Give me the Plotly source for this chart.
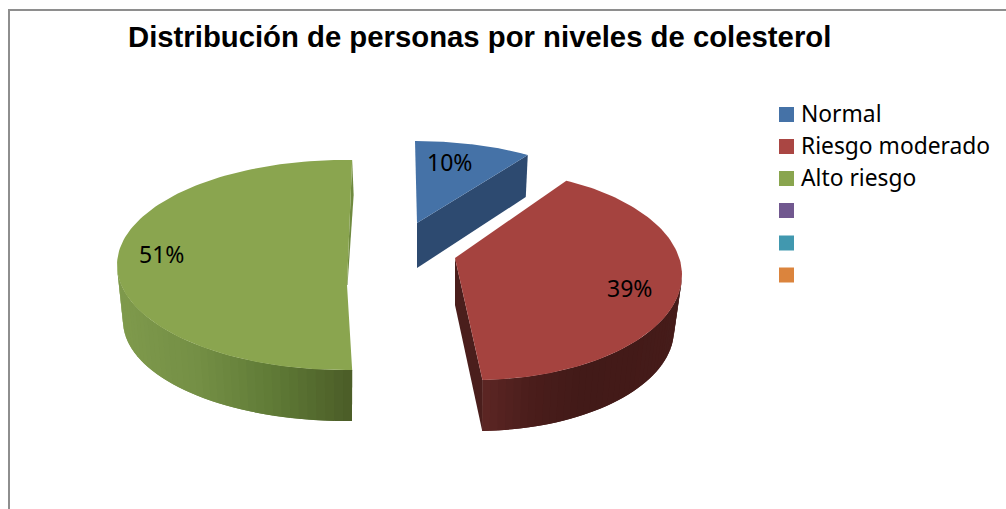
import math
import plotly.graph_objects as go

# ---- data ----
title = "Distribución de personas por niveles de colesterol"
categories = ["Normal", "Riesgo moderado", "Alto riesgo"]
values = [10, 39, 51]
labels = ["10%", "39%", "51%"]
legend_names = ["Normal", "Riesgo moderado", "Alto riesgo", "", "", ""]
legend_colors = ["#4572a7", "#aa4643", "#89a54e", "#71588f", "#4198af", "#db843d"]

# ---- oblique projection of each exploded slice (drawing style, not data) ----
W, H = 1006, 509
ROT = 1.8
PROJ = [
    dict(top=(415, 208, 184, 67), bot=(413, 250, 184, 67), apex=(417, 223), apex_bot=(417, 268),
         d0=-1.8, d1=0.0, face="#4572a7", cut="#2d4a70", cut_kind="wall", wall=None, lab=(450, 163)),
    dict(top=(476, 275, 206, 105), bot=(476, 330, 198, 101), apex=(455, 258), apex_bot=(455, 305),
         d0=-11.8, d1=0.0, face="#a5433f", cut="#4a1e1c", cut_kind="wall",
         wall=(90.0, 178.2, ["#461c1a", "#431a18", "#421a18", "#4a1d1b", "#5c2624"]), lab=(630, 289)),
    dict(top=(345, 265, 228, 105), bot=(345, 321, 222, 100), apex=(347, 285), apex_bot=(347.5, 285),
         d0=0.0, d1=0.0, face="#8aa54f", cut="#6f8a3f", cut_kind="sliver",
         wall=(270.0, 178.2, ["#7f9a4c", "#748f45", "#5f7a36", "#4b5c27"]), lab=(162, 255)),
]


def hx(c):
    return tuple(int(c[i:i + 2], 16) for i in (1, 3, 5))


def ramp(stops, t):
    t = max(0.0, min(1.0, t))
    p = t * (len(stops) - 1)
    i = min(int(p), len(stops) - 2)
    f = p - i
    a, b = hx(stops[i]), hx(stops[i + 1])
    return "rgb(%d,%d,%d)" % tuple(round(a[k] + (b[k] - a[k]) * f) for k in range(3))


def rim(e, deg):
    cx, cy, rx, ry = e
    r = math.radians(deg)
    return cx + rx * math.sin(r), cy - ry * math.cos(r)


def poly(fig, pts, color):
    xs = [p[0] for p in pts] + [pts[0][0]]
    ys = [p[1] for p in pts] + [pts[0][1]]
    fig.add_trace(go.Scatter(x=xs, y=ys, mode="lines", fill="toself", fillcolor=color,
                             line=dict(color=color, width=0), hoverinfo="skip", showlegend=False))


fig = go.Figure()

# frame
fig.add_trace(go.Scatter(x=[9, 9, W], y=[H, 10, 10], mode="lines",
                         line=dict(color="#8e8e8e", width=2), hoverinfo="skip", showlegend=False))

# slices, from the values
total = sum(values)
start = ROT
spans = []
for v in values:
    end = start + 360.0 * v / total
    spans.append((start, end))
    start = end

for i in (2, 0, 1):
    g = PROJ[i]
    a0, a1 = spans[i][0] + g["d0"], spans[i][1] + g["d1"]
    # outer wall with stepped shading: strips overlap the next one to hide seams
    if g["wall"]:
        far, near, stops = g["wall"]
        n = 40
        xa, xb = rim(g["top"], far)[0], rim(g["top"], near)[0]
        for k in range(n):
            u0 = far + (near - far) * k / n
            u1 = far + (near - far) * min(k + 2, n) / n
            t = (rim(g["top"], far + (near - far) * (k + 0.5) / n)[0] - xa) / (xb - xa)
            poly(fig, [rim(g["top"], u0), rim(g["top"], u1), rim(g["bot"], u1), rim(g["bot"], u0)],
                 ramp(stops, t))
    # cut wall
    t_end = rim(g["top"], a1)
    if g["cut_kind"] == "wall":
        poly(fig, [g["apex"], t_end, rim(g["bot"], a1), g["apex_bot"]], g["cut"])
    else:
        poly(fig, [t_end, g["apex"], g["apex_bot"], (t_end[0] + 1.5, t_end[1] + 35)], g["cut"])
    # top face
    m = 120
    arc = [rim(g["top"], a0 + (a1 - a0) * k / m) for k in range(m + 1)]
    poly(fig, [g["apex"]] + arc, g["face"])

# legend swatches
leg_y = [114.5, 146.5, 178.5, 210.5, 243, 275]
fig.add_trace(go.Scatter(x=[786.5] * 6, y=leg_y, mode="markers",
                         marker=dict(symbol="square", size=15, color=legend_colors, line=dict(width=0)),
                         hoverinfo="skip", showlegend=False))

ann = [dict(x=126, y=36.5, text="<b>%s</b>" % title, xanchor="left", yanchor="middle", showarrow=False,
            font=dict(family="Liberation Sans", size=29.3, color="#000000"))]
for name, y in zip(legend_names, leg_y):
    if name:
        ann.append(dict(x=799, y=y - 1, text=name, xanchor="left", yanchor="middle", showarrow=False,
                        font=dict(family="Noto Sans", size=22.8, color="#000000")))
for g, t in zip(PROJ, labels):
    ann.append(dict(x=g["lab"][0] - 1, y=g["lab"][1] - 1, text=t, xanchor="center", yanchor="middle", showarrow=False,
                    font=dict(family="Noto Sans", size=23, color="#000000")))

fig.update_layout(
    width=W, height=H, margin=dict(l=0, r=0, t=0, b=0),
    paper_bgcolor="#ffffff", plot_bgcolor="#ffffff", annotations=ann,
    xaxis=dict(range=[0, W], visible=False, fixedrange=True),
    yaxis=dict(range=[H, 0], visible=False, fixedrange=True),
)
fig.write_html("out.html", config=dict(displayModeBar=False),
               post_script="document.body.style.margin='0';document.documentElement.style.overflow='hidden';")
